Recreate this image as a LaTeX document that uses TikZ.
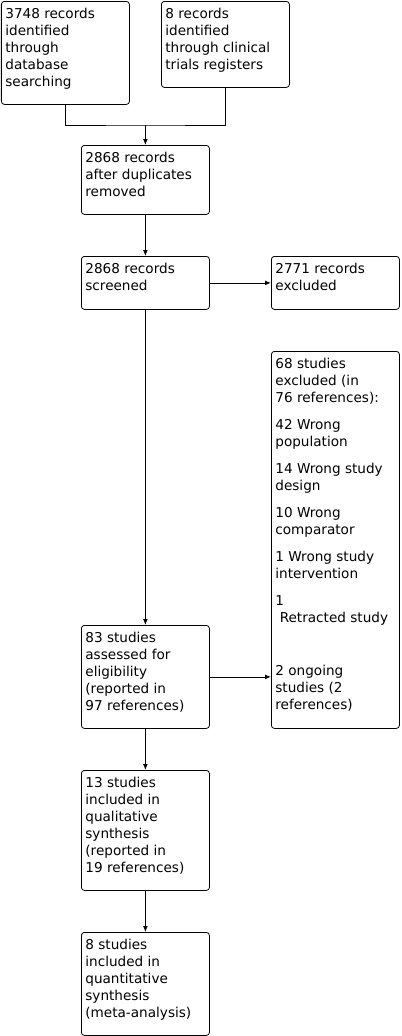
\documentclass[tikz,border=0pt]{standalone}
\usepackage{fontspec}
\setmainfont{DejaVu Sans}
\usepackage{tikz}
\usetikzlibrary{arrows.meta,positioning}

\newcommand{\boxtext}[2]{\parbox[c][#1][t]{90pt}{\raggedright\strut #2}}

\begin{document}
\begin{tikzpicture}[x=0.75pt,y=0.75pt,yscale=-1,xscale=1,
	flowbox/.style={draw, line width=0.6pt, rounded corners=2.25pt, anchor=north west, inner xsep=3pt, inner ysep=4pt, font=\fontsize{10.2}{12.75}\selectfont},
	flowline/.style={line width=0.6pt},
	flowarrow/.style={flowline, -{Latex[length=4.5pt,width=3.6pt]}}]
		\useasboundingbox (0,0) rectangle (402,1036);
		
		% Text Node
		\node (recdb) [flowbox] at (1,1) {\boxtext{69.25pt}{3748 records\\identified\\through\\database\\searching}};
		% Text Node
		\node (recreg) [flowbox] at (161,1) {\boxtext{56.5pt}{8 records\\identified\\through clinical\\trials registers}};
		% Text Node
		\node (dupl) [flowbox] at (81,145) {\boxtext{43.75pt}{2868 records\\after duplicates\\removed}};
		% Text Node
		\node (screened) [flowbox] at (81,256) {\boxtext{31.75pt}{2868 records\\screened}};
		% Text Node
		\node (recexcl) [flowbox] at (271,256) {\boxtext{31.75pt}{2771 records\\excluded}};
		% Text Node
		\node (studexcl) [flowbox] at (271,351) {\boxtext{274.75pt}{68 studies\\excluded (in\\76 references):\\[7.5pt]
			42 Wrong\\population\\[7.5pt]
			14 Wrong study\\design\\[7.5pt]
			10 Wrong\\comparator\\[7.5pt]
			1 Wrong study\\intervention\\[7.5pt]
			1\\\hspace*{0.32em}Retracted study\\[27pt]
			2 ongoing\\studies (2\\references)}};
		% Text Node
		\node (eligib) [flowbox] at (81,625) {\boxtext{69.25pt}{83 studies\\assessed for\\eligibility\\(reported in\\97 references)}};
		% Text Node
		\node (qualit) [flowbox] at (81,770) {\boxtext{82pt}{13 studies\\included in\\qualitative\\synthesis\\(reported in\\19 references)}};
		% Text Node
		\node (quantit) [flowbox] at (81,932) {\boxtext{69.25pt}{8 studies\\included in\\quantitative\\synthesis\\(meta-analysis)}};
		
		%Straight Lines
		\path (dupl.north) ++(0,-20) coordinate (merge);
		\draw [flowline] (recdb.south) |- (merge) -| (recreg.south);
		\draw [flowarrow] (merge) -- (dupl.north);
		%Straight Lines
		\draw [flowarrow] (dupl.south) -- (screened.north);
		\draw [flowarrow] (screened.east) -- (recexcl.west);
		\draw [flowarrow] (screened.south) -- (eligib.north);
		\draw [flowarrow] (eligib.east) -- (eligib.east -| studexcl.west);
		\draw [flowarrow] (eligib.south) -- (qualit.north);
		\draw [flowarrow] (qualit.south) -- (quantit.north);
		
\end{tikzpicture}
\end{document}
